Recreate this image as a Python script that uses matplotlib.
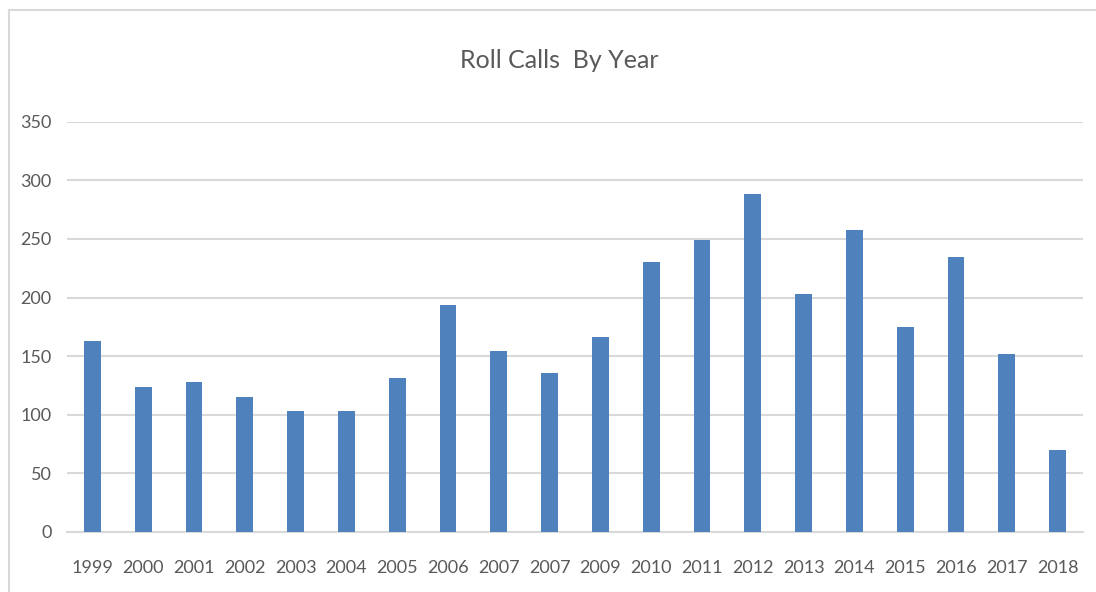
import matplotlib
matplotlib.use("Agg")
import matplotlib.pyplot as plt
from matplotlib.lines import Line2D

years = ["1999", "2000", "2001", "2002", "2003", "2004", "2005", "2006", "2007", "2007",
         "2009", "2010", "2011", "2012", "2013", "2014", "2015", "2016", "2017", "2018"]
roll_calls = [163, 124, 128, 115, 103, 103, 131, 194, 154, 136,
              166, 230, 249, 288, 203, 258, 175, 235, 152, 70]
y_ticks = [0, 50, 100, 150, 200, 250, 300, 350]

W, H = 1096, 592
fig = plt.figure(figsize=(W / 100, H / 100), dpi=100)
fig.patch.set_facecolor("white")

# outer chart frame (light grey)
frame_col = "#d9d9d9"
fig.add_artist(Line2D([8.5 / W, 8.5 / W], [0, 1 - 10 / H], transform=fig.transFigure,
                      color=frame_col, lw=1.5))
fig.add_artist(Line2D([8.5 / W, 1], [1 - 10 / H, 1 - 10 / H], transform=fig.transFigure,
                      color=frame_col, lw=1.5))

left, right = 67 / W, 1083 / W
bottom, top = 1 - 532 / H, 1 - 121.7 / H
ax = fig.add_axes([left, bottom, right - left, top - bottom])

x = list(range(len(years)))
ax.bar(x, roll_calls, width=0.33, color="#4F81BD", zorder=3)

ax.set_xlim(-0.5, len(years) - 0.5)
ax.set_ylim(0, 350)
ax.set_yticks(y_ticks)
ax.set_yticklabels([str(v) for v in y_ticks])
ax.set_xticks(x)
ax.set_xticklabels(years)

ax.yaxis.grid(True, color="#d9d9d9", lw=1.5, zorder=0)
ax.set_axisbelow(True)
for s in ["top", "right", "left"]:
    ax.spines[s].set_visible(False)
ax.spines["bottom"].set_color("#d9d9d9")
ax.spines["bottom"].set_linewidth(1.5)

ax.tick_params(axis="both", length=0, labelsize=13, labelcolor="#595959")
ax.tick_params(axis="y", pad=11)
ax.tick_params(axis="x", pad=20)
for lab in ax.get_xticklabels() + ax.get_yticklabels():
    lab.set_family("Lato")

fig.text(559 / W, 1 - 60 / H, "Roll Calls  By Year", ha="center", va="center",
         fontsize=18, color="#595959", family="Lato")

fig.savefig("out.png", dpi=100, facecolor="white")
